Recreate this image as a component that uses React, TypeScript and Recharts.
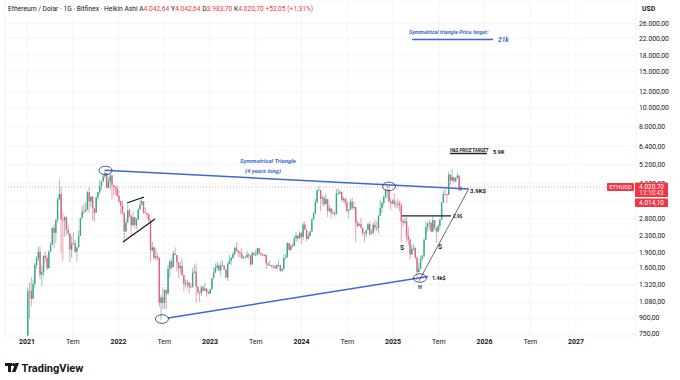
import React from 'react';
import { ComposedChart, Bar, XAxis, YAxis, CartesianGrid, ReferenceLine, ReferenceDot } from 'recharts';

// ---- data (weekly, starting the first week of 2021) ----
const START_YEAR = 2021;
const FIRST_OPEN = 737;
const LAST_PRICE = 4020.7;
const HA_CLOSE = 4014.1;

const weeklyClose = [
  // 2021
  1220, 1230, 1120, 1330, 1650, 1780, 1920, 1480, 1520, 1830,
  1790, 1590, 1920, 2080, 2520, 2380, 2750, 3490, 3720, 2780,
  2740, 2850, 2470, 2370, 1970, 2110, 2120, 1920, 2020, 2300,
  2820, 3040, 3030, 3100, 3790, 3420, 3600, 3150, 3000, 3580,
  3790, 4060, 4290, 4540, 4730, 3990, 4270, 4590, 4110, 4020,
  3970, 3630,
  // 2022
  3420, 3250, 3000, 2420, 2680, 3080, 2880, 2600, 2850, 2610,
  2770, 3110, 3280, 3420, 3020, 2990, 2930, 2750, 1950, 2020,
  1790, 1820, 1790, 1070, 1140, 1070, 1240, 1190, 1580, 1720,
  1610, 1880, 1850, 1700, 1590, 1630, 1470, 1330, 1330, 1350,
  1290, 1280, 1510, 1530, 1290, 1210, 1200, 1280, 1230, 1260,
  1210, 1190,
  // 2023
  1250, 1420, 1510, 1600, 1640, 1550, 1640, 1640, 1570, 1430,
  1670, 1740, 1790, 1870, 2010, 1940, 1910, 1880, 1790, 1800,
  1800, 1860, 1840, 1660, 1890, 1850, 1850, 2000, 1890, 1860,
  1840, 1850, 1680, 1650, 1650, 1630, 1620, 1590, 1650, 1650,
  1540, 1570, 1790, 1800, 2120, 1960, 2060, 2050, 2230, 2310,
  2240, 2380,
  // 2024
  2270, 2620, 2470, 2220, 2300, 2420, 2780, 2970, 3380, 3880,
  3880, 3510, 3560, 3310, 3500, 3060, 3150, 2990, 2990, 2950,
  3740, 3750, 3810, 3470, 3520, 3380, 3060, 3100, 3400, 3170,
  3200, 2680, 2580, 2630, 2530, 2370, 2360, 2460, 2630, 2350,
  2370, 2610, 2530, 2520, 2900, 3170, 3360, 3580, 3870, 3880,
  3400, 3330,
  // 2025
  3450, 3320, 3300, 3330, 3250, 2730, 2680, 2720, 2300, 2200,
  1860, 1980, 2010, 1800, 1520, 1580, 1770, 1840, 2200, 2550,
  2660, 2680, 2420, 2760, 2520, 2420, 2580, 2770, 3370, 3710,
  3700, 3680, 4640, 4330, 4510, 4300, 4460, 4590, 3870, 4020.7,
];

const weeklyHigh = [
  1280, 1350, 1440, 1390, 1690, 1830, 2040, 2040, 1650, 1850,
  1930, 1850, 1960, 2150, 2550, 2630, 2800, 3560, 4380, 4020,
  3000, 2900, 2870, 2600, 2260, 2300, 2400, 2200, 2030, 2450,
  2840, 3250, 3330, 3370, 3840, 4020, 3650, 3550, 3150, 3620,
  3800, 4370, 4300, 4650, 4870, 4700, 4500, 4780, 4650, 4100,
  4060, 4120,
  3880, 3420, 3420, 3000, 2810, 3280, 3140, 2930, 3040, 2750,
  2830, 3150, 3480, 3580, 3300, 3190, 3000, 2970, 2740, 2150,
  2030, 2000, 1900, 1800, 1170, 1280, 1250, 1250, 1650, 1750,
  1790, 1940, 2020, 1850, 1700, 1710, 1780, 1480, 1400, 1390,
  1360, 1340, 1590, 1660, 1680, 1300, 1230, 1310, 1300, 1350,
  1250, 1230,
  1260, 1420, 1600, 1680, 1710, 1680, 1720, 1740, 1650, 1570,
  1710, 1850, 1810, 1920, 2020, 2140, 1960, 1940, 2000, 1840,
  1830, 1930, 1890, 1780, 1920, 1930, 1970, 2010, 2000, 1890,
  1880, 1870, 1860, 1700, 1740, 1650, 1650, 1650, 1660, 1740,
  1650, 1600, 1860, 1870, 2130, 2130, 2090, 2130, 2310, 2400,
  2250, 2420,
  2400, 2700, 2720, 2480, 2390, 2440, 2800, 3030, 3520, 3900,
  4090, 3730, 3680, 3640, 3730, 3320, 3280, 3180, 3130, 3050,
  3930, 3960, 3880, 3810, 3600, 3550, 3520, 3120, 3510, 3560,
  3400, 3200, 2750, 2680, 2810, 2530, 2400, 2470, 2670, 2730,
  2480, 2690, 2760, 2720, 2920, 3450, 3380, 3650, 3930, 4100,
  4110, 3550,
  3500, 3740, 3450, 3520, 3440, 3380, 2800, 2840, 2840, 2550,
  2250, 2070, 2100, 1900, 1820, 1690, 1830, 1850, 2250, 2730,
  2680, 2780, 2640, 2880, 2620, 2480, 2620, 2790, 3400, 3860,
  3940, 3710, 4780, 4530, 4950, 4500, 4480, 4760, 4490, 4070,
];

const weeklyLow = [
  715, 900, 1030, 1170, 1270, 1580, 1720, 1400, 1290, 1450,
  1720, 1550, 1680, 1930, 2070, 2000, 2120, 2700, 3500, 1900,
  1730, 2280, 2330, 2300, 1700, 1800, 2080, 1900, 1720, 2050,
  2420, 2860, 2950, 3050, 3080, 3000, 3200, 2740, 2700, 2990,
  3440, 3700, 3890, 4250, 4460, 3960, 3970, 3900, 3500, 3650,
  3680, 3600,
  3340, 2950, 2940, 2170, 2440, 2960, 2840, 2300, 2580, 2500,
  2500, 2880, 3100, 3300, 2950, 2970, 2800, 2700, 1700, 1930,
  1750, 1740, 1730, 1020, 880, 1000, 1000, 1000, 1180, 1430,
  1560, 1610, 1840, 1530, 1420, 1500, 1460, 1220, 1280, 1260,
  1190, 1270, 1300, 1500, 1070, 1170, 1080, 1160, 1220, 1230,
  1150, 1180,
  1190, 1250, 1410, 1520, 1550, 1540, 1460, 1630, 1560, 1420,
  1370, 1660, 1650, 1770, 1840, 1920, 1800, 1800, 1760, 1780,
  1780, 1790, 1770, 1630, 1660, 1840, 1840, 1850, 1880, 1830,
  1820, 1820, 1580, 1640, 1640, 1600, 1560, 1580, 1570, 1620,
  1530, 1530, 1600, 1770, 1820, 1950, 1940, 2020, 2090, 2160,
  2150, 2230,
  2100, 2200, 2460, 2170, 2230, 2270, 2430, 2760, 2950, 3340,
  3850, 3060, 3250, 3200, 3290, 2850, 3010, 2820, 2950, 2870,
  3000, 3670, 3720, 3410, 3370, 3250, 3000, 2810, 3110, 3100,
  3100, 2150, 2530, 2570, 2500, 2310, 2150, 2260, 2510, 2310,
  2350, 2380, 2450, 2430, 2370, 2900, 3000, 3250, 3560, 3520,
  3380, 3100,
  3300, 3200, 3150, 3150, 3040, 2150, 2550, 2620, 2150, 2080,
  1760, 1870, 1940, 1760, 1390, 1530, 1570, 1740, 1800, 2330,
  2420, 2480, 2400, 2470, 2480, 2120, 2390, 2470, 2920, 3480,
  3650, 3360, 3900, 4080, 4320, 4200, 4250, 4440, 3820, 3960,
];

const priceTicks = [750, 900, 1080, 1320, 1600, 1900, 2300, 2800, 3400, 4200, 5200, 6400, 8000, 10000, 12000, 15000, 18000, 22000, 26000];
const coveredTicks = [3400]; // label fully hidden behind the price badge
const partlyCoveredTicks = [4200]; // label only peeks out above the badge
const timeTicks = [2021, 2021.5, 2022, 2022.5, 2023, 2023.5, 2024, 2024.5, 2025, 2025.5, 2026, 2026.5, 2027];
const midYearLabel = 'Tem';

// drawings on the chart (time in years, price in USD)
const triangleUpper = [{ x: 2021.85, y: 4880 }, { x: 2025.83, y: 3930 }];
const triangleLower = [{ x: 2022.541, y: 900 }, { x: 2025.383, y: 1448 }];
const flagUpper = [{ x: 2022.093, y: 3352 }, { x: 2022.279, y: 3590 }];
const flagLower = [{ x: 2022.049, y: 2146 }, { x: 2022.399, y: 2791 }];
const neckline = [{ x: 2025.098, y: 2890 }, { x: 2025.634, y: 2890 }];
const riseLine = [{ x: 2025.284, y: 1375 }, { x: 2025.82, y: 3886 }];
const targetLine = [{ x: 2025.208, y: 21700 }, { x: 2026.093, y: 21700 }];
const hsTargetLine = [{ x: 2025.623, y: 5900 }, { x: 2026.027, y: 5900 }];
const circles = [
  { t: 2021.858, p: 4860 },
  { t: 2022.475, p: 890 },
  { t: 2024.956, p: 4050 },
  { t: 2025.295, p: 1422 },
];

const BLUE = '#3f67d4';
const INK = '#131722';
const RED = '#f23645';
const UP = '#34a78f';
const DOWN = '#e3627a';
const FONT = "Roboto, 'Liberation Sans', Arial, sans-serif";

type Note = { t: number; p: number; text: string; color: string; size: number; anchor: 'start' | 'middle'; italic?: boolean; weight?: number };
const notes: Note[] = [
  { t: 2023.634, p: 5417, text: 'Symmetrical Triangle', color: BLUE, size: 6, anchor: 'middle', italic: true, weight: 700 },
  { t: 2023.579, p: 4860, text: '(4 years long)', color: BLUE, size: 6, anchor: 'middle', italic: true, weight: 700 },
  { t: 2025.175, p: 23700, text: 'Symmetrical triangle Price target:', color: BLUE, size: 5.4, anchor: 'start', italic: true, weight: 700 },
  { t: 2026.148, p: 21650, text: '21k', color: BLUE, size: 6.5, anchor: 'start', italic: true, weight: 700 },
  { t: 2025.623, p: 6145, text: 'H&S PRICE TARGET', color: INK, size: 4.4, anchor: 'start', italic: true, weight: 700 },
  { t: 2026.093, p: 6010, text: '5.9K', color: INK, size: 5.5, anchor: 'start', weight: 700 },
  { t: 2025.842, p: 3844, text: '3.9K$', color: INK, size: 6, anchor: 'start', weight: 700 },
  { t: 2025.656, p: 2890, text: '2.9$', color: INK, size: 4.6, anchor: 'start', weight: 700 },
  { t: 2025.426, p: 1422, text: '1.4k$', color: INK, size: 5.4, anchor: 'start', weight: 700 },
  { t: 2025.098, p: 2004, text: 'S', color: INK, size: 6.5, anchor: 'middle', weight: 700 },
  { t: 2025.514, p: 2027, text: 'S', color: INK, size: 6.5, anchor: 'middle', weight: 700 },
  { t: 2025.295, p: 1283, text: 'H', color: INK, size: 5, anchor: 'middle', weight: 700 },
];

const candles = weeklyClose.map((close, i) => {
  const open = i === 0 ? FIRST_OPEN : weeklyClose[i - 1];
  const high = Math.max(weeklyHigh[i], open, close);
  const low = Math.min(weeklyLow[i], open, close);
  return { t: START_YEAR + (i * 7 + 3.5) / 365.25, open, close, high, low, range: [low, high] };
});

const fmtPrice = (v: number) => {
  const [int, dec] = v.toFixed(2).split('.');
  return int.replace(/\B(?=(\d{3})+(?!\d))/g, '.') + ',' + dec;
};

const Candle = (props: any) => {
  const { x, y, width, height, payload } = props;
  if (!payload || y == null || height == null || isNaN(y)) return null;
  const top = Math.min(y, y + height);
  const h = Math.abs(height);
  const { open, close, high, low } = payload;
  const lh = Math.log(high);
  const ll = Math.log(low);
  const py = (v: number) => top + (h * (lh - Math.log(v))) / (lh - ll || 1);
  const cx = x + width / 2;
  const color = close >= open ? UP : DOWN;
  const bTop = py(Math.max(open, close));
  const bBot = py(Math.min(open, close));
  return (
    <g>
      <line x1={cx} x2={cx} y1={top} y2={top + h} stroke={color} strokeWidth={0.6} />
      <rect x={cx - 0.7} y={bTop} width={1.4} height={Math.max(0.8, bBot - bTop)} fill={color} />
    </g>
  );
};

const PriceTick = (props: any) => {
  const { x, y, payload } = props;
  const v = payload.value;
  if (coveredTicks.includes(v)) return null;
  const id = 'clip-tick-' + v;
  const partial = partlyCoveredTicks.includes(v);
  return (
    <g>
      {partial && (
        <clipPath id={id}>
          <rect x={x - 2} y={y - 8} width={50} height={7.6} />
        </clipPath>
      )}
      <text
        x={x}
        y={y}
        dy={2.4}
        fontSize={6.8}
        fill={INK}
        fontFamily={FONT}
        textAnchor="start"
        clipPath={partial ? `url(#${id})` : undefined}
      >
        {fmtPrice(v)}
      </text>
    </g>
  );
};

const TimeTick = (props: any) => {
  const { x, y, payload } = props;
  const isYear = Number.isInteger(payload.value);
  return (
    <text x={x} y={y} dy={5} fontSize={7} fill={INK} fontFamily={FONT} textAnchor="middle" fontWeight={isYear ? 700 : 400}>
      {isYear ? String(payload.value) : midYearLabel}
    </text>
  );
};

const Ellipse = (props: any) => (
  <ellipse cx={props.cx} cy={props.cy} rx={6.5} ry={4.3} fill="none" stroke="#2b2f63" strokeWidth={0.8} />
);

const makeNote = (n: Note) => (props: any) => (
  <text
    x={props.cx}
    y={props.cy}
    dy={n.size * 0.35}
    fontSize={n.size}
    fill={n.color}
    fontFamily={FONT}
    fontStyle={n.italic ? 'italic' : 'normal'}
    fontWeight={n.weight ?? 400}
    textAnchor={n.anchor}
  >
    {n.text}
  </text>
);

const PriceBadge = (props: any) => {
  const { cx, cy } = props;
  return (
    <g fontFamily={FONT}>
      <rect x={cx - 29} y={cy - 4} width={27} height={8} fill={RED} rx={1} />
      <text x={cx - 15.5} y={cy + 2.2} fontSize={6} fill="#fff" textAnchor="middle">ETHUSD</text>
      <rect x={cx - 1} y={cy - 4.5} width={33} height={14.5} fill={RED} rx={1} />
      <text x={cx + 15.5} y={cy + 2.2} fontSize={6.5} fill="#fff" textAnchor="middle">{fmtPrice(LAST_PRICE)}</text>
      <text x={cx + 15.5} y={cy + 8.4} fontSize={6.3} fill="#fde3e5" textAnchor="middle">12:10:43</text>
      <rect x={cx - 1} y={cy + 11.5} width={33} height={8.5} fill={RED} rx={1} />
      <text x={cx + 15.5} y={cy + 18} fontSize={6.5} fill="#fff" textAnchor="middle">{fmtPrice(HA_CLOSE)}</text>
    </g>
  );
};

const X_DOMAIN: [number, number] = [2020.7596, 2027.656];
const Y_DOMAIN: [number, number] = [733, 34110];

export default function App() {
  return (
    <div style={{ position: 'absolute', left: 0, top: 0, width: 680, height: 380, background: '#fff', overflow: 'hidden' }}>
      <ComposedChart width={680} height={380} data={candles} margin={{ top: 0, right: 0, bottom: 0, left: 5 }}>
        <CartesianGrid stroke="#f1f2f6" strokeWidth={0.8} />
        <XAxis
          dataKey="t"
          type="number"
          domain={X_DOMAIN}
          ticks={timeTicks}
          allowDataOverflow
          height={44}
          axisLine={false}
          tickLine={false}
          tickSize={0}
          tickMargin={3}
          tick={<TimeTick />}
          interval={0}
        />
        <YAxis
          orientation="right"
          scale="log"
          domain={Y_DOMAIN}
          ticks={priceTicks}
          allowDataOverflow
          width={44}
          axisLine={false}
          tickLine={false}
          tickSize={0}
          tickMargin={3}
          tick={<PriceTick />}
          interval={0}
        />
        <ReferenceLine y={LAST_PRICE} stroke={RED} strokeOpacity={0.55} strokeDasharray="1 2" strokeWidth={0.8} />
        <Bar dataKey="range" shape={<Candle />} barSize={2} isAnimationActive={false} />
        <ReferenceLine segment={triangleUpper} stroke={BLUE} strokeWidth={1.5} ifOverflow="visible" />
        <ReferenceLine segment={triangleLower} stroke={BLUE} strokeWidth={1.5} ifOverflow="visible" />
        <ReferenceLine segment={flagUpper} stroke="#111" strokeWidth={1.1} ifOverflow="visible" />
        <ReferenceLine segment={flagLower} stroke="#111" strokeWidth={1.1} ifOverflow="visible" />
        <ReferenceLine segment={neckline} stroke="#222" strokeWidth={1.2} ifOverflow="visible" />
        <ReferenceLine segment={riseLine} stroke="#444" strokeWidth={0.8} ifOverflow="visible" />
        <ReferenceLine segment={targetLine} stroke={BLUE} strokeWidth={1.6} ifOverflow="visible" />
        <ReferenceLine segment={hsTargetLine} stroke="#222" strokeWidth={1.6} ifOverflow="visible" />
        {circles.map((c, i) => (
          <ReferenceDot key={'c' + i} x={c.t} y={c.p} r={6} shape={<Ellipse />} ifOverflow="visible" />
        ))}
        {notes.map((n, i) => (
          <ReferenceDot key={'n' + i} x={n.t} y={n.p} r={1} shape={makeNote(n)} ifOverflow="visible" />
        ))}
        <ReferenceDot x={X_DOMAIN[1]} y={LAST_PRICE} r={1} shape={<PriceBadge />} ifOverflow="visible" />
      </ComposedChart>
      <svg width={680} height={380} style={{ position: 'absolute', left: 0, top: 0, pointerEvents: 'none' }}>
        <rect x={638} y={0} width={40} height={19} fill="#fff" />
        <text x={642} y={10.5} fontSize={6.8} fontWeight={700} fill={INK} fontFamily={FONT}>USD</text>
        <text x={8} y={10.5} fontSize={6.7} fill={INK} fontFamily={FONT}>
          Ethereum / Dolar · 1G · Bitfinex · Heikin Ashi{'  '}
          <tspan>A</tspan><tspan fill={RED}>4.042,64</tspan>{'  '}
          <tspan>Y</tspan><tspan fill={RED}>4.042,64</tspan>{'  '}
          <tspan>D</tspan><tspan fill={RED}>3.983,70</tspan>{'  '}
          <tspan>K</tspan><tspan fill={RED}>4.020,70</tspan>{'  '}
          <tspan fill={RED}>+52,05 (+1,31%)</tspan>
        </text>
        <g fill={INK}>
          <rect x={5} y={363} width={7} height={3} />
          <rect x={8} y={363} width={3} height={9} />
          <circle cx={13.6} cy={364.6} r={1.6} />
          <polygon points="15.5,363 19,363 15.5,372 12,372" />
        </g>
        <text x={21.5} y={372} fontSize={11} fontWeight={700} fill={INK} fontFamily={FONT}>TradingView</text>
      </svg>
    </div>
  );
}
